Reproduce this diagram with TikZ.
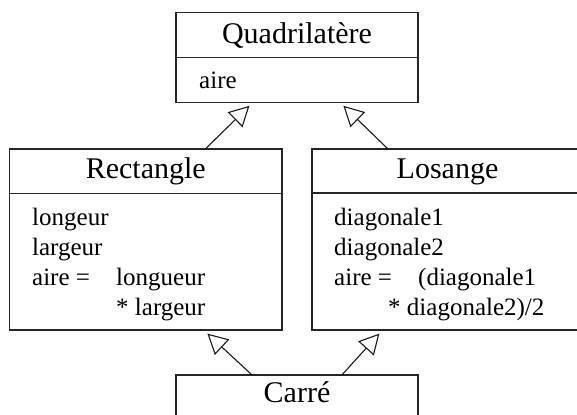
\documentclass[tikz,border=0pt]{standalone}
\usepackage{fontspec}
\setmainfont{Liberation Serif}
\usetikzlibrary{arrows.meta,calc}
\begin{document}
\begin{tikzpicture}[x=1bp,y=-1bp,
  classbox/.style={draw=black!85, line width=1.2bp, rectangle, inner sep=0pt},
  divider/.style={draw=black!85, line width=1.2bp},
  classtitle/.style={anchor=base, inner sep=0pt, font=\fontsize{30bp}{36bp}\selectfont},
  field/.style={anchor=base west, inner sep=0pt, font=\fontsize{25bp}{30bp}\selectfont},
  inherits/.style={draw=black!90, line width=1.1bp, -{Triangle[open, length=20bp, width=21bp, line width=1.1bp]}}]
\path[use as bounding box, clip] (0,0) rectangle (577,414);

% class boxes
\node[classbox, minimum width=242bp, minimum height=90bp] (quad) at (297,57.7) {};
\node[classbox, minimum width=272.5bp, minimum height=181bp] (rect) at (145.75,239.5) {};
\node[classbox, minimum width=271bp, minimum height=181bp] (los) at (447.5,239.5) {};
\node[classbox, minimum width=242bp, minimum height=90bp] (carre) at (297,420) {};

% compartment dividers
\draw[divider] ($(quad.north west)+(0,45.3)$) -- ($(quad.north east)+(0,45.3)$);
\draw[divider] ($(rect.north west)+(0,45)$) -- ($(rect.north east)+(0,45)$);
\draw[divider] ($(los.north west)+(0,44.5)$) -- ($(los.north east)+(0,44.5)$);

% class names
\node[classtitle] (quadT) at (297,43) {Quadrilatère};
\node[classtitle] (rectT) at (145.75,178) {Rectangle};
\node[classtitle] (losT) at (447.5,178) {Losange};
\node[classtitle] (carreT) at (297,402) {Carré};

% attributes
\node[field] (quadA) at (199,88) {aire};

\node[field] (rectA) at (32,225) {longeur};
\node[field] (rectB) at (32,255) {largeur};
\node[field] (rectC) at (32,285) {aire =};
\node[field] (rectD) at (116,285) {longueur};
\node[field] (rectE) at (116,315) {* largeur};

\node[field] (losA) at (334,225) {diagonale1};
\node[field] (losB) at (334,255) {diagonale2};
\node[field] (losC) at (334,285) {aire =};
\node[field] (losD) at (418,285) {(diagonale1};
\node[field] (losE) at (388,315) {* diagonale2)/2};

% generalisation arrows
\draw[inherits] ($(rect.north west)+(197,0)$) -- ($(quad.south west)+(74,2.5)$);
\draw[inherits] ($(los.north west)+(76,0)$) -- ($(quad.south west)+(168,2.5)$);
\draw[inherits] ($(carre.north west)+(76,0)$) -- ($(rect.south west)+(198.5,3)$);
\draw[inherits] ($(carre.north west)+(167,0)$) -- ($(los.south west)+(68,3)$);
\end{tikzpicture}
\end{document}
